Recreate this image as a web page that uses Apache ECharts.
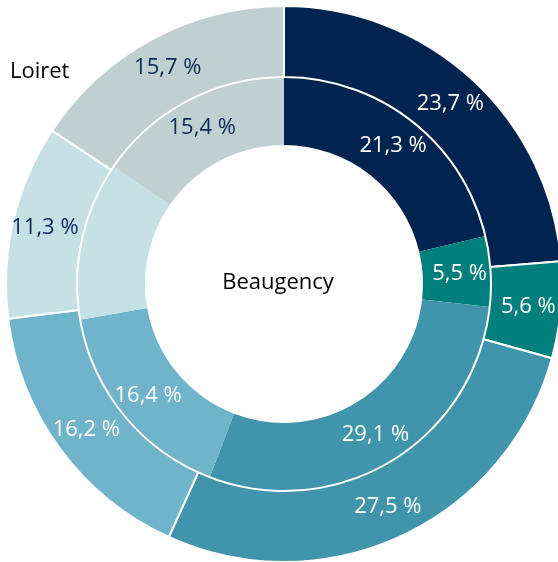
<!DOCTYPE html>
<html>
<head>
<meta charset="utf-8">
<script src="https://cdn.jsdelivr.net/npm/echarts@6/dist/echarts.min.js"></script>
<style>
html,body{margin:0;padding:0;background:#fff;}
#chart{width:558px;height:562px;}
</style>
</head>
<body>
<div id="chart"></div>
<script>
const categories = ['Cat 1', 'Cat 2', 'Cat 3', 'Cat 4', 'Cat 5', 'Cat 6'];
const loiretValues = [23.7, 5.6, 27.5, 16.2, 11.3, 15.7];
const beaugencyValues = [21.3, 5.5, 29.1, 16.4, 12.4, 15.4];
const sliceColors = ['#00234F', '#007F7C', '#4094AB', '#6FB4CB', '#C5E1E6', '#C0CFCF'];
const labelColors = ['#FFFFFF', '#FFFFFF', '#FFFFFF', '#FFFFFF', '#0D2A5C', '#0D2A5C'];
const outerName = 'Loiret';
const innerName = 'Beaugency';

const FONT = '"Open Sans", sans-serif';

function fmt(v) { return v.toFixed(1).replace('.', ',') + ' %'; }

function buildData(values) {
  return categories.map((c, i) => ({
    name: c,
    value: values[i],
    itemStyle: { color: sliceColors[i] },
    label: { color: labelColors[i] }
  }));
}

const chart = echarts.init(document.getElementById('chart'), null, { renderer: 'canvas' });
chart.setOption({
  animation: false,
  backgroundColor: '#ffffff',
  series: [
    {
      name: innerName,
      type: 'pie',
      center: [284, 284],
      radius: [139, 207],
      startAngle: 90,
      clockwise: true,
      avoidLabelOverlap: false,
      itemStyle: { borderWidth: 0 },
      label: {
        show: true,
        position: 'inside',
        fontFamily: FONT,
        fontSize: 22,
        formatter: p => fmt(p.value)
      },
      labelLine: { show: false },
      emphasis: { disabled: true },
      data: buildData(beaugencyValues)
    },
    {
      name: outerName,
      type: 'pie',
      center: [284, 284],
      radius: [207, 278],
      startAngle: 90,
      clockwise: true,
      avoidLabelOverlap: false,
      itemStyle: { borderColor: '#ffffff', borderWidth: 2 },
      label: {
        show: true,
        position: 'inside',
        fontFamily: FONT,
        fontSize: 22,
        formatter: p => fmt(p.value)
      },
      labelLine: { show: false },
      emphasis: { disabled: true },
      data: buildData(loiretValues)
    }
  ],
  graphic: [
    {
      type: 'text',
      x: 10,
      y: 72,
      style: { text: outerName, fontFamily: FONT, fontSize: 22, fill: '#000000', align: 'left', verticalAlign: 'middle' }
    },
    {
      type: 'text',
      x: 278,
      y: 283,
      style: { text: innerName, fontFamily: FONT, fontSize: 22, fill: '#000000', align: 'center', verticalAlign: 'middle' }
    }
  ]
});
</script>
</body>
</html>
